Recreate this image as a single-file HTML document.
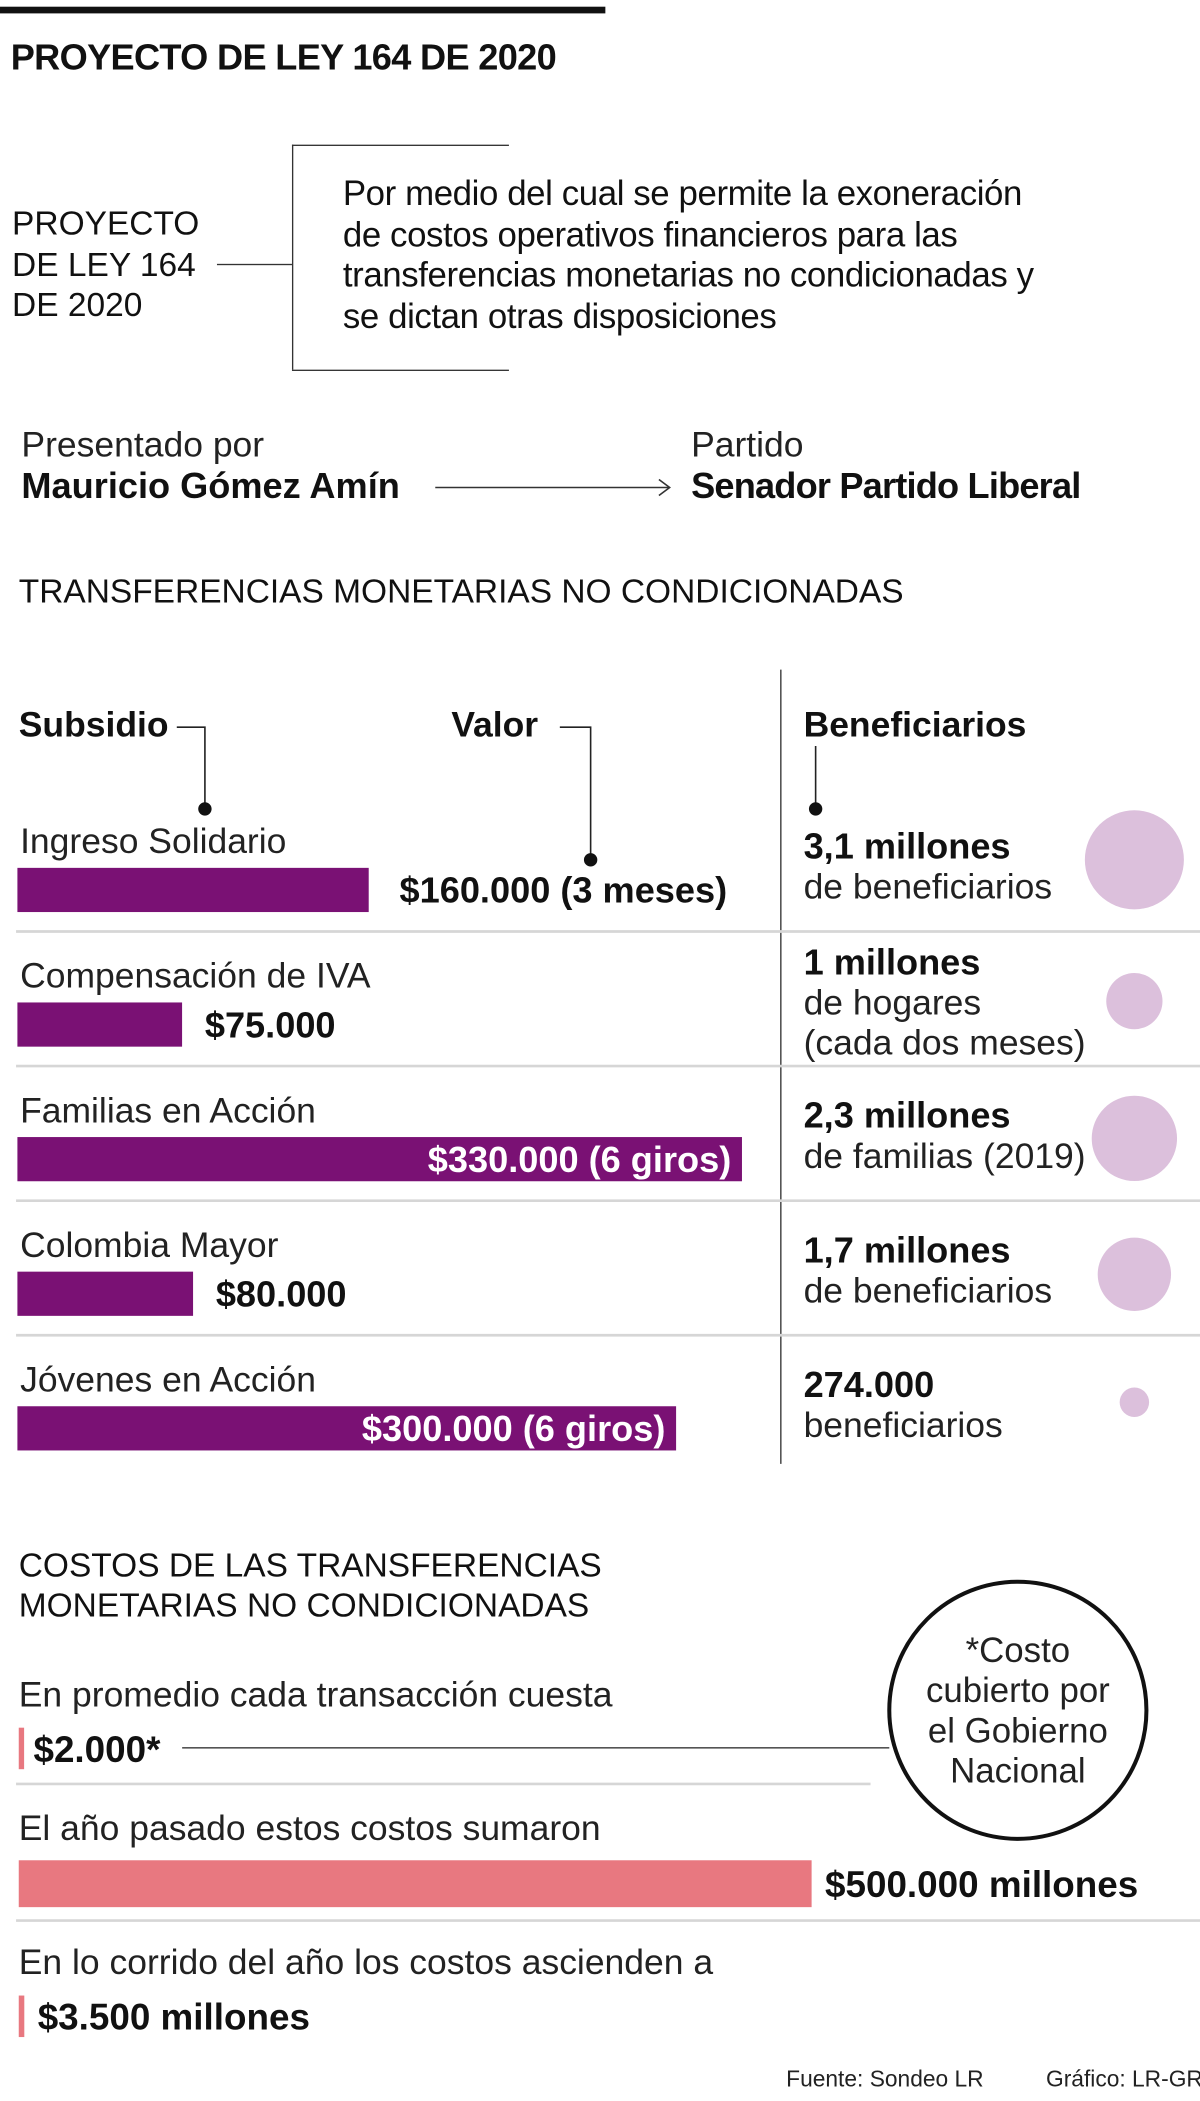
<!DOCTYPE html>
<html><head><meta charset="utf-8">
<style>
html,body{margin:0;padding:0;background:#fff;}
body{width:1200px;height:2101px;overflow:hidden;position:relative;}
#s{position:absolute;left:0;top:0;width:896px;height:1569px;transform:scale(1.33929);transform-origin:0 0;font-family:"Liberation Sans",sans-serif;color:#111;}
.t{position:absolute;white-space:nowrap;line-height:1;}
.b{font-weight:bold;}
.l{position:absolute;background:#333;}
</style></head>
<body>
<div id="s">
<div class="l" style="left:0;top:5px;width:452px;height:5px;background:#111"></div>
<div class="t b" style="left:8px;top:30px;font-size:27px;letter-spacing:-0.5px">PROYECTO DE LEY 164 DE 2020</div>

<div class="t" style="left:9px;top:152px;font-size:25px;line-height:30.5px;white-space:nowrap;width:160px">PROYECTO<br>DE LEY 164<br>DE 2020</div>
<div class="l" style="left:162px;top:197px;width:56px;height:1px"></div>
<div class="l" style="left:218px;top:108px;width:1px;height:168px"></div>
<div class="l" style="left:218px;top:108px;width:162px;height:1px"></div>
<div class="l" style="left:218px;top:276px;width:162px;height:1px"></div>
<div class="t" style="left:256px;top:129px;font-size:26px;line-height:30.5px;letter-spacing:-0.3px">Por medio del cual se permite la exoneración<br>de costos operativos financieros para las<br>transferencias monetarias no condicionadas y<br>se dictan otras disposiciones</div>

<div class="t" style="left:16px;top:319px;font-size:26.5px;color:#222">Presentado por</div>
<div class="t b" style="left:16px;top:350px;font-size:27px">Mauricio Gómez Amín</div>
<svg style="position:absolute;left:320px;top:356px" width="185" height="16"><line x1="5" y1="8" x2="180" y2="8" stroke="#333" stroke-width="1.2"/><polyline points="172,2 180,8 172,14" fill="none" stroke="#333" stroke-width="1.2"/></svg>
<div class="t" style="left:516px;top:319px;font-size:26.5px;color:#222">Partido</div>
<div class="t b" style="left:516px;top:350px;font-size:27px;letter-spacing:-0.6px">Senador Partido Liberal</div>

<div class="t" style="left:14px;top:430px;font-size:25px">TRANSFERENCIAS MONETARIAS NO CONDICIONADAS</div>

<svg id="chart" style="position:absolute;left:0;top:0" width="896" height="1569"></svg>

<div class="t" style="left:14px;top:1154px;font-size:25px;line-height:30px">COSTOS DE LAS TRANSFERENCIAS<br>MONETARIAS NO CONDICIONADAS</div>

<div class="t" style="left:587px;top:1544px;font-size:17px;color:#222">Fuente: Sondeo LR</div>
<div class="t" style="left:781px;top:1544px;font-size:17px;color:#222">Gráfico: LR-GR</div>
</div>

<script>
const categories=["Ingreso Solidario","Compensación de IVA","Familias en Acción","Colombia Mayor","Jóvenes en Acción"];
const values=[160000,75000,330000,80000,300000];
const valueLabels=["$160.000 (3 meses)","$75.000","$330.000 (6 giros)","$80.000","$300.000 (6 giros)"];
const beneficiaries=[3.1,1,2.3,1.7,0.274];
const benefTitles=["3,1 millones","1 millones","2,3 millones","1,7 millones","274.000"];
const benefSubs=[["de beneficiarios"],["de hogares","(cada dos meses)"],["de familias (2019)"],["de beneficiarios"],["beneficiarios"]];
const costLabels=["En promedio cada transacción cuesta","El año pasado estos costos sumaron","En lo corrido del año los costos ascienden a"];
const costValues=[2000,500000,3500];
const costValueLabels=["$2.000*","$500.000 millones","$3.500 millones"];

const NS="http://www.w3.org/2000/svg";
const svg=document.getElementById('chart');
function mk(tag,attrs,parent){const e=document.createElementNS(NS,tag);for(const k in attrs)e.setAttribute(k,attrs[k]);(parent||svg).appendChild(e);return e;}
function txt(x,y,s,size,weight,fill,anchor){const e=mk('text',{x:x,y:y,'font-size':size,'font-weight':weight||'normal',fill:fill||'#111','text-anchor':anchor||'start','font-family':'Liberation Sans, sans-serif'});e.textContent=s;return e;}

const x0=13, rowH=100.5, row0=612;
const xScale=v=>v*(541/330000);
const rScale=v=>21*Math.sqrt(v);

let h=txt(14,550,"Subsidio",26.5,'bold');
h=txt(337,550,"Valor",26.5,'bold');
h=txt(600,550,"Beneficiarios",26.5,'bold');
let c=mk('polyline',{points:"132,543 153,543 153,604",fill:'none',stroke:'#222','stroke-width':1.2});

mk('circle',{cx:153,cy:604,r:5,fill:'#111'});
c=mk('polyline',{points:"418,543 441,543 441,642",fill:'none',stroke:'#222','stroke-width':1.2});

mk('circle',{cx:441,cy:642,r:5,fill:'#111'});
c=mk('line',{x1:609,y1:557,x2:609,y2:604,stroke:'#222','stroke-width':1.2});

mk('circle',{cx:609,cy:604,r:5,fill:'#111'});
c=mk('line',{x1:583,y1:500,x2:583,y2:1093,stroke:'#555','stroke-width':1.2});


categories.forEach((cat,i)=>{
  const top=row0+i*rowH;
  if(i>0){const s=mk('line',{x1:12,y1:top-17,x2:896,y2:top-17,stroke:'#d6d6d6','stroke-width':2});
    }
  const lab=txt(15,top+25,cat,26.5,'normal','#222');
  
  const w=xScale(values[i]);
  const by=top+36;
  const bar=mk('rect',{x:x0,y:by,width:w,height:33,fill:'#7a1174'});
  
  
  let vl;
  if(w>400){vl=txt(x0+w-8,by+26,valueLabels[i],27,'bold','#fff','end');}
  else{vl=txt(x0+w+(i===0?23:17),by+26,valueLabels[i],27,'bold','#111');}
  
  const shift=benefSubs[i].length>1?-14:0;
  const bt=txt(600,top+29+shift,benefTitles[i],27,'bold');
  
  benefSubs[i].forEach((s,j)=>{const e=txt(600,top+59+shift+j*30,s,26.5,'normal','#222');
    });
  const r=rScale(beneficiaries[i]);
  const circ=mk('circle',{cx:847,cy:top+(i===4?33:30)+(i===1?5:0)+(i===2?7:0)+(i===3?8:0),r:r,fill:'#dcc0dc'});
  
  
});

const costScale=v=>Math.max(4,v*(592/500000));
const costTops=[1243,1343,1443];
costLabels.forEach((s,i)=>{
  const t=costTops[i];
  const e=txt(14,t+31,s,26.5,'normal','#222');
  
  const w=costScale(costValues[i]);
  const bh=i===1?35:31;
  const by=i===1?t+46:t+47;
  const bar=mk('rect',{x:14,y:by,width:w,height:bh,fill:'#e87880'});
  
  
  const v=txt(14+w+(i===0?7:10),by+bh/2+10,costValueLabels[i],27.5,'bold');
  
});
c=mk('line',{x1:136,y1:1305,x2:664,y2:1305,stroke:'#555','stroke-width':1.2});

c=mk('line',{x1:12,y1:1332,x2:650,y2:1332,stroke:'#d6d6d6','stroke-width':2});

c=mk('line',{x1:12,y1:1434,x2:896,y2:1434,stroke:'#d6d6d6','stroke-width':2});

c=mk('circle',{cx:760,cy:1277,r:96,fill:'#fff',stroke:'#111','stroke-width':3});

["*Costo","cubierto por","el Gobierno","Nacional"].forEach((s,j)=>{
  const e=txt(760,1241+j*30,s,26,'normal','#222','middle');
  
});
</script>
</body></html>
